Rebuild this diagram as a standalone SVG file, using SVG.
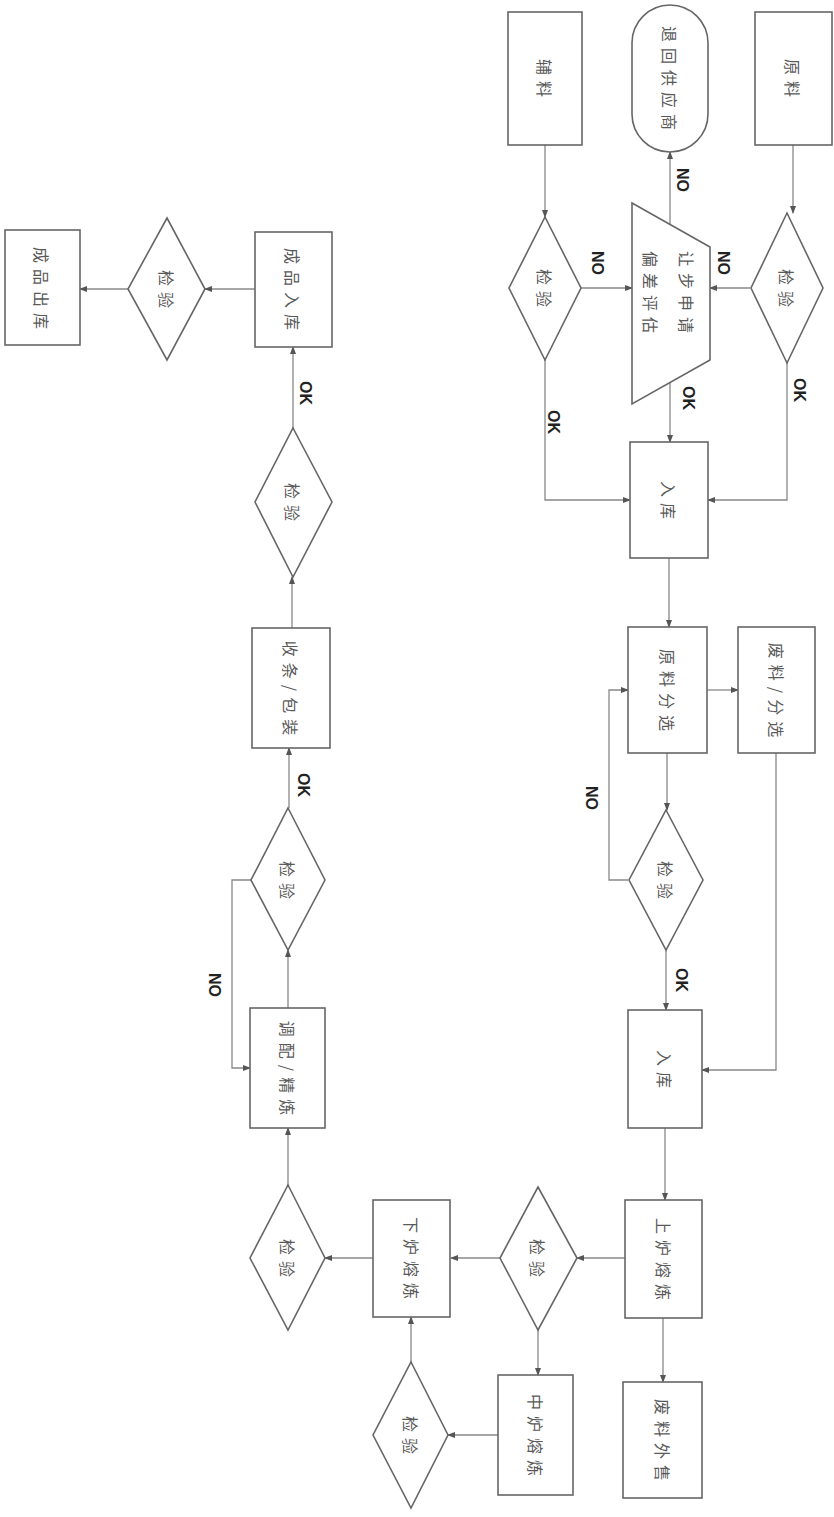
<svg xmlns="http://www.w3.org/2000/svg" width="834" height="1517" viewBox="0 0 834 1517">
<style>
.n{fill:#fff;stroke:#666;stroke-width:1.6}
.t{font-family:"Noto Sans CJK SC","Liberation Sans",sans-serif;font-size:16px;letter-spacing:6px;fill:#5a5a5a;text-anchor:middle;dominant-baseline:central}
.c{fill:none;stroke:#888;stroke-width:1.3;marker-end:url(#a)}
.l{font-family:"Liberation Sans",sans-serif;font-size:16px;font-weight:bold;fill:#222;text-anchor:middle;dominant-baseline:central}
</style>
<defs><marker id="a" markerWidth="8" markerHeight="8" refX="7" refY="4" orient="auto" markerUnits="userSpaceOnUse"><path d="M0,1 L8,4 L0,7 Z" fill="#555"/></marker></defs>
<rect width="834" height="1517" fill="#fff"/>
<g id="connectors">
<path class="c" d="M793,145 V213"/>
<path class="c" d="M545,145 V217"/>
<path class="c" d="M750,288 H710"/>
<path class="c" d="M580,288 H632"/>
<path class="c" d="M670,224 V152"/>
<path class="c" d="M670,382 V442"/>
<path class="c" d="M787,363 V500 H708"/>
<path class="c" d="M545,360 V500 H630"/>
<path class="c" d="M669,558 V627"/>
<path class="c" d="M707,690 H738"/>
<path class="c" d="M667,753 V810"/>
<path class="c" d="M628,880 H609 V690 H628"/>
<path class="c" d="M666,950 V1010"/>
<path class="c" d="M776,753 V1070 H702"/>
<path class="c" d="M665,1128 V1200"/>
<path class="c" d="M663,1318 V1382"/>
<path class="c" d="M625,1258 H577"/>
<path class="c" d="M500,1258 H451"/>
<path class="c" d="M538,1330 V1375"/>
<path class="c" d="M498,1435 H448"/>
<path class="c" d="M411,1362 V1317"/>
<path class="c" d="M373,1258 H325"/>
<path class="c" d="M288,1185 V1128"/>
<path class="c" d="M288,1008 V950"/>
<path class="c" d="M251,880 H232 V1068 H250"/>
<path class="c" d="M289,808 V748"/>
<path class="c" d="M292,628 V577"/>
<path class="c" d="M293,428 V347"/>
<path class="c" d="M255,289 H205"/>
<path class="c" d="M128,289 H80"/>
<text class="l" transform="translate(682,180) rotate(90)">NO</text>
<text class="l" transform="translate(723,263) rotate(90)">NO</text>
<text class="l" transform="translate(597,263) rotate(90)">NO</text>
<text class="l" transform="translate(688,398) rotate(90)">OK</text>
<text class="l" transform="translate(799,390) rotate(90)">OK</text>
<text class="l" transform="translate(553,422) rotate(90)">OK</text>
<text class="l" transform="translate(591,798) rotate(90)">NO</text>
<text class="l" transform="translate(681,980) rotate(90)">OK</text>
<text class="l" transform="translate(214,985) rotate(90)">NO</text>
<text class="l" transform="translate(303,785) rotate(90)">OK</text>
<text class="l" transform="translate(305,393) rotate(90)">OK</text>
</g>
<g id="n1"><rect class="n" x="755" y="12" width="77" height="133"/><text class="t" transform="translate(793,81) rotate(90)">原料</text></g>
<g id="n2"><rect class="n" x="508" y="12" width="74" height="133"/><text class="t" transform="translate(545,81) rotate(90)">辅料</text></g>
<g id="n3"><rect class="n" x="632" y="5" width="76" height="147" rx="38"/><text class="t" transform="translate(670,81) rotate(90)">退回供应商</text></g>
<g id="n4"><polygon class="n" points="787,213 823,288 787,363 751,288"/><text class="t" transform="translate(787,291) rotate(90)">检验</text></g>
<g id="n5"><polygon class="n" points="545,217 581,288 545,360 509,288"/><text class="t" transform="translate(545,291) rotate(90)">检验</text></g>
<g id="n6"><polygon class="n" points="632,203 710,247 710,360 632,404"/><text class="t" transform="translate(687,295) rotate(90)">让步申请</text><text class="t" transform="translate(651,295) rotate(90)">偏差评估</text></g>
<g id="n7"><rect class="n" x="630" y="442" width="78" height="116"/><text class="t" transform="translate(669,503) rotate(90)">入库</text></g>
<g id="n8"><rect class="n" x="628" y="627" width="79" height="126"/><text class="t" transform="translate(668,693) rotate(90)">原料分选</text></g>
<g id="n9"><rect class="n" x="738" y="627" width="77" height="126"/><text class="t" transform="translate(777,693) rotate(90)">废料/分选</text></g>
<g id="n10"><polygon class="n" points="666,810 703,880 666,950 629,880"/><text class="t" transform="translate(666,883) rotate(90)">检验</text></g>
<g id="n11"><rect class="n" x="628" y="1010" width="74" height="118"/><text class="t" transform="translate(665,1072) rotate(90)">入库</text></g>
<g id="n12"><rect class="n" x="625" y="1200" width="77" height="118"/><text class="t" transform="translate(664,1262) rotate(90)">上炉熔炼</text></g>
<g id="n13"><rect class="n" x="623" y="1382" width="79" height="116"/><text class="t" transform="translate(663,1443) rotate(90)">废料外售</text></g>
<g id="n14"><polygon class="n" points="538,1187 577,1258 538,1330 500,1258"/><text class="t" transform="translate(538,1261) rotate(90)">检验</text></g>
<g id="n15"><rect class="n" x="373" y="1200" width="77" height="117"/><text class="t" transform="translate(412,1261) rotate(90)">下炉熔炼</text></g>
<g id="n16"><rect class="n" x="498" y="1375" width="75" height="120"/><text class="t" transform="translate(536,1438) rotate(90)">中炉熔炼</text></g>
<g id="n17"><polygon class="n" points="411,1362 448,1435 411,1508 373,1435"/><text class="t" transform="translate(411,1438) rotate(90)">检验</text></g>
<g id="n18"><polygon class="n" points="288,1185 325,1258 288,1330 250,1258"/><text class="t" transform="translate(288,1261) rotate(90)">检验</text></g>
<g id="n19"><rect class="n" x="250" y="1008" width="75" height="120"/><text class="t" transform="translate(288,1071) rotate(90)">调配/精炼</text></g>
<g id="n20"><polygon class="n" points="288,808 325,880 288,950 251,880"/><text class="t" transform="translate(288,883) rotate(90)">检验</text></g>
<g id="n21"><rect class="n" x="252" y="628" width="78" height="120"/><text class="t" transform="translate(291,691) rotate(90)">收条/包装</text></g>
<g id="n22"><polygon class="n" points="293,428 332,502 293,577 255,502"/><text class="t" transform="translate(293,505) rotate(90)">检验</text></g>
<g id="n23"><rect class="n" x="255" y="232" width="77" height="115"/><text class="t" transform="translate(293,292) rotate(90)">成品入库</text></g>
<g id="n24"><polygon class="n" points="167,218 205,289 167,360 128,289"/><text class="t" transform="translate(167,292) rotate(90)">检验</text></g>
<g id="n25"><rect class="n" x="5" y="230" width="75" height="115"/><text class="t" transform="translate(42,291) rotate(90)">成品出库</text></g>
</svg>
